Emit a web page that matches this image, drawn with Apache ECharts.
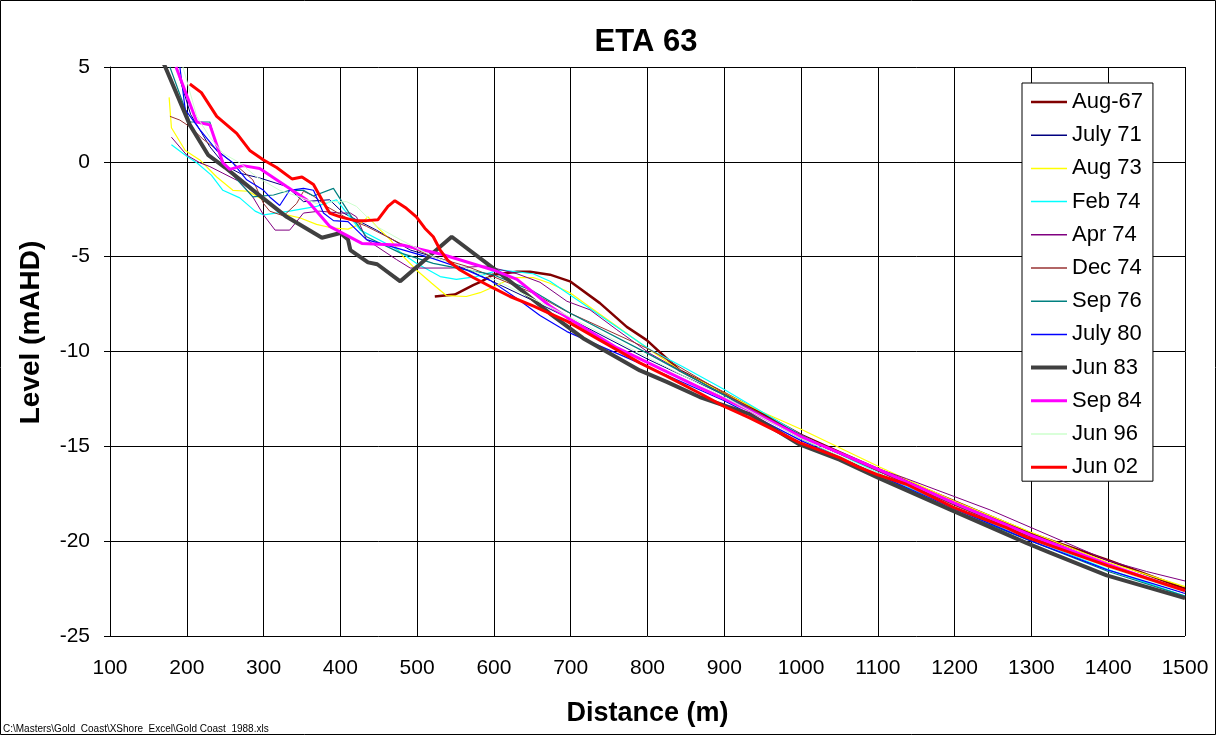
<!DOCTYPE html>
<html>
<head>
<meta charset="utf-8">
<script src="https://cdn.jsdelivr.net/npm/echarts@6/dist/echarts.min.js"></script>
<style>
  html, body { margin: 0; padding: 0; background: #fff; }
  #chart { width: 1217px; height: 736px; }
</style>
</head>
<body>
<div id="chart"></div>
<script>
  // profile data: [distance (m), level (mAHD)]
  const aug67 = [[523,-7.1],[549,-7.0],[573,-6.5],[584,-6.3],[599,-5.95],[630,-5.8],[647,-5.8],[673,-5.95],[699,-6.3],[738,-7.45],[773,-8.7],[799,-9.4],[842,-11.0],[900,-12.2],[933,-12.9],[1000,-14.4],[1050,-15.3],[1100,-16.2],[1200,-17.9],[1300,-19.6],[1400,-21.0],[1500,-22.5]]
  const july71 = [[190,4.5],[205,2.5],[230,0.8],[250,-0.2],[269,-0.6],[295,-0.85],[330,-1.3],[352,-2.1],[386,-2.0],[404,-2.7],[447,-3.6],[491,-4.65],[534,-5.15],[577,-5.9],[650,-7.3],[700,-8.3],[800,-10.4],[900,-12.3],[1000,-14.5],[1100,-16.3],[1200,-18.1],[1300,-19.8],[1400,-21.3],[1500,-22.6]]
  const aug73 = [[177,3.4],[180,1.8],[198,0.6],[217,0.1],[239,-0.8],[260,-1.5],[280,-1.55],[295,-1.9],[330,-2.8],[347,-2.95],[369,-3.3],[391,-3.5],[410,-3.55],[425,-3.3],[436,-2.9],[447,-3.4],[465,-4.1],[482,-5.0],[499,-5.7],[519,-6.4],[538,-7.05],[564,-7.1],[582,-6.9],[599,-6.6],[625,-6.1],[651,-6.1],[673,-6.4],[699,-6.9],[799,-9.8],[846,-11.1],[950,-13.2],[1000,-14.1],[1103,-16.1],[1200,-17.9],[1298,-19.5],[1398,-21.1],[1500,-22.4]]
  const feb74 = [[180,0.9],[200,0.3],[213,-0.05],[232,-0.7],[247,-1.5],[269,-1.9],[289,-2.6],[300,-2.8],[334,-2.6],[369,-2.35],[395,-2.0],[426,-3.6],[469,-4.5],[499,-5.35],[530,-6.05],[551,-6.2],[577,-6.05],[608,-5.7],[651,-5.9],[673,-6.3],[803,-9.9],[846,-10.8],[900,-12.0],[1000,-14.4],[1100,-16.4],[1200,-18.3],[1300,-19.9],[1400,-21.5],[1500,-22.9]]
  const apr74 = [[180,1.3],[200,0.35],[217,-0.05],[230,-0.25],[247,-0.6],[269,-1.05],[286,-1.85],[300,-2.8],[315,-3.6],[334,-3.6],[352,-2.7],[373,-2.6],[400,-2.7],[413,-2.7],[421,-2.9],[434,-4.1],[473,-5.15],[491,-5.6],[543,-5.6],[590,-5.5],[630,-5.9],[660,-6.35],[695,-7.35],[725,-7.8],[760,-8.85],[803,-10.1],[900,-12.3],[1033,-15.1],[1094,-16.1],[1137,-16.7],[1246,-18.35],[1398,-21.0],[1450,-21.6],[1500,-22.1]]
  const dec74 = [[178,2.4],[191,2.2],[204,1.85],[221,1.2],[234,0.8],[252,0.2],[269,-0.35],[286,-0.95],[300,-2.2],[308,-2.6],[326,-2.85],[343,-2.2],[352,-1.55],[365,-1.8],[382,-2.35],[410,-3.0],[434,-3.4],[478,-4.3],[521,-5.0],[564,-5.5],[599,-6.05],[650,-6.9],[695,-7.9],[803,-9.9],[900,-12.2],[1000,-14.5],[1100,-16.3],[1200,-18.1],[1300,-19.8],[1400,-21.3],[1500,-22.7]]
  const sep76 = [[178,5.0],[204,2.1],[230,2.1],[239,0.8],[250,-0.25],[269,-1.1],[286,-1.85],[313,-1.75],[334,-1.5],[352,-1.5],[365,-1.8],[391,-1.4],[413,-2.8],[434,-3.95],[478,-4.8],[521,-5.35],[564,-5.7],[599,-5.95],[650,-6.8],[700,-8.0],[800,-10.1],[900,-12.3],[1000,-14.6],[1100,-16.5],[1200,-18.4],[1300,-20.0],[1400,-21.6],[1500,-22.9]]
  const july80 = [[191,5.0],[198,2.75],[217,1.7],[239,0.6],[260,-0.05],[278,-0.95],[300,-1.5],[308,-1.85],[321,-2.3],[334,-1.5],[352,-1.4],[365,-1.5],[378,-2.7],[391,-3.1],[410,-3.15],[434,-4.1],[469,-4.5],[521,-5.1],[564,-5.7],[595,-6.25],[630,-7.2],[660,-8.1],[695,-8.95],[800,-10.8],[900,-12.6],[1000,-14.7],[1100,-16.5],[1200,-18.3],[1300,-20.0],[1398,-21.5],[1500,-22.75]]
  const jun83 = [[160,6.0],[172,5.0],[204,1.95],[228,0.35],[250,-0.3],[291,-1.65],[330,-2.9],[376,-4.0],[400,-3.75],[410,-4.1],[413,-4.65],[436,-5.3],[448,-5.4],[478,-6.3],[545,-3.95],[599,-5.6],[640,-6.9],[673,-8.0],[716,-9.3],[790,-11.0],[825,-11.6],[868,-12.4],[933,-13.3],[998,-14.9],[1050,-15.7],[1103,-16.7],[1198,-18.4],[1294,-20.1],[1324,-20.6],[1398,-21.8],[1500,-23.0]]
  const sep84 = [[186,5.0],[213,2.1],[230,1.95],[247,-0.05],[256,-0.4],[273,-0.2],[295,-0.35],[330,-1.3],[356,-2.0],[386,-3.4],[428,-4.3],[482,-4.4],[534,-4.9],[599,-5.7],[630,-6.2],[673,-7.6],[695,-8.2],[760,-9.8],[868,-11.9],[933,-13.1],[1000,-14.5],[1050,-15.35],[1100,-16.2],[1200,-18.0],[1300,-19.7],[1398,-21.2],[1500,-22.65]]
  const jun96 = [[195,5.0],[213,2.4],[230,1.3],[247,0.45],[269,-0.05],[291,-0.8],[304,-1.1],[321,-1.5],[347,-1.85],[369,-2.2],[391,-2.1],[408,-2.1],[421,-2.35],[447,-3.4],[478,-4.1],[521,-5.0],[564,-5.6],[600,-6.2],[700,-8.2],[800,-10.3],[900,-12.4],[1000,-14.6],[1100,-16.4],[1200,-18.2],[1300,-19.9],[1400,-21.4],[1500,-22.7]]
  const jun02 = [[204,4.1],[219,3.65],[239,2.4],[265,1.5],[282,0.6],[300,0.1],[317,-0.3],[337,-0.9],[350,-0.8],[365,-1.2],[376,-2.0],[386,-2.7],[400,-2.9],[419,-3.1],[434,-3.1],[449,-3.05],[462,-2.35],[471,-2.05],[486,-2.45],[499,-2.9],[510,-3.5],[521,-3.95],[530,-4.65],[540,-5.2],[556,-5.7],[573,-6.1],[599,-6.65],[621,-7.1],[651,-7.6],[673,-8.0],[695,-8.4],[738,-9.4],[790,-10.6],[825,-11.3],[868,-12.2],[900,-12.9],[933,-13.5],[998,-14.8],[1050,-15.6],[1075,-16.1],[1100,-16.5],[1137,-17.0],[1198,-18.2],[1216,-18.5],[1268,-19.3],[1294,-19.8],[1400,-21.3],[1500,-22.6]]

  const seriesNames = ['Aug-67', 'July 71', 'Aug 73', 'Feb 74', 'Apr 74', 'Dec 74', 'Sep 76', 'July 80', 'Jun 83', 'Sep 84', 'Jun 96', 'Jun 02']
  const seriesData = [aug67, july71, aug73, feb74, apr74, dec74, sep76, july80, jun83, sep84, jun96, jun02]
  const xTicks = { min: 100, max: 1500, step: 100 }
  const yTicks = { min: -25, max: 5, step: 5 }

  // line colours / widths, same order as seriesNames
  const colors = ['#800000', '#000080', '#FFFF00', '#00FFFF', '#800080', '#993333', '#008080', '#0000FF', '#404040', '#FF00FF', '#CCFFCC', '#FF0000']
  const widths = [2.5, 1, 1.2, 1.2, 1, 1, 1.2, 1.2, 4, 3, 1, 3]

  const FONT = '"Liberation Sans", Arial, sans-serif'

  const chart = echarts.init(document.getElementById('chart'))

  const option = {
    animation: false,
    backgroundColor: '#fff',
    textStyle: { fontFamily: FONT, color: '#000' },
    title: {
      text: 'ETA 63',
      left: 641,
      top: 22,
      textAlign: 'center',
      textStyle: { fontFamily: FONT, fontSize: 31, fontWeight: 'bold', color: '#000' }
    },
    grid: { left: 110, right: 32, top: 67, bottom: 100, outerBoundsMode: 'none' },
    legend: {
      orient: 'vertical',
      left: 1022,
      top: 83,
      padding: [8, 10, 3, 7],
      itemGap: 11.2,
      itemWidth: 36,
      itemHeight: 14,
      backgroundColor: '#fff',
      borderColor: '#000',
      borderWidth: 1,
      itemStyle: { opacity: 0 },
      textStyle: { fontFamily: FONT, fontSize: 22, lineHeight: 22, color: '#000' },
      data: seriesNames.map((name, i) => ({ name, lineStyle: { width: Math.max(widths[i], 1.5) } }))
    },
    xAxis: {
      type: 'value',
      min: xTicks.min,
      max: xTicks.max,
      interval: xTicks.step,
      name: 'Distance (m)',
      nameLocation: 'middle',
      nameGap: 64,
      nameTextStyle: { fontFamily: FONT, fontSize: 27, fontWeight: 'bold', color: '#000' },
      axisLine: { lineStyle: { color: '#000', width: 1 } },
      axisTick: { length: 6, lineStyle: { color: '#000' } },
      axisLabel: { fontFamily: FONT, fontSize: 21, color: '#000', margin: 22, formatter: v => String(v) },
      splitLine: { show: true, lineStyle: { color: '#000', width: 1 } }
    },
    yAxis: {
      type: 'value',
      min: yTicks.min,
      max: yTicks.max,
      interval: yTicks.step,
      name: 'Level (mAHD)',
      nameLocation: 'middle',
      nameGap: 65,
      nameTextStyle: { fontFamily: FONT, fontSize: 28, fontWeight: 'bold', color: '#000', padding: [0, 0, 0, 38] },
      axisLine: { lineStyle: { color: '#000', width: 1 } },
      axisTick: { show: true, length: 6, lineStyle: { color: '#000' } },
      axisLabel: { fontFamily: FONT, fontSize: 21, color: '#000', margin: 20 },
      splitLine: { show: true, lineStyle: { color: '#000', width: 1 } }
    },
    series: seriesNames.map((name, i) => ({
      name,
      type: 'line',
      data: seriesData[i],
      symbol: 'none',
      clip: true,
      color: colors[i],
      lineStyle: { color: colors[i], width: widths[i] }
    })),
    graphic: [
      {
        type: 'rect',
        shape: { x: 0.5, y: 0.5, width: 1215, height: 734 },
        style: { fill: null, stroke: '#000', lineWidth: 1 },
        silent: true
      },
      {
        type: 'text',
        left: 3,
        top: 724,
        style: {
          text: 'C:\\Masters\\Gold  Coast\\XShore  Excel\\Gold Coast  1988.xls',
          font: '10px ' + FONT,
          fill: '#000'
        }
      }
    ]
  }

  chart.setOption(option)
</script>
</body>
</html>
